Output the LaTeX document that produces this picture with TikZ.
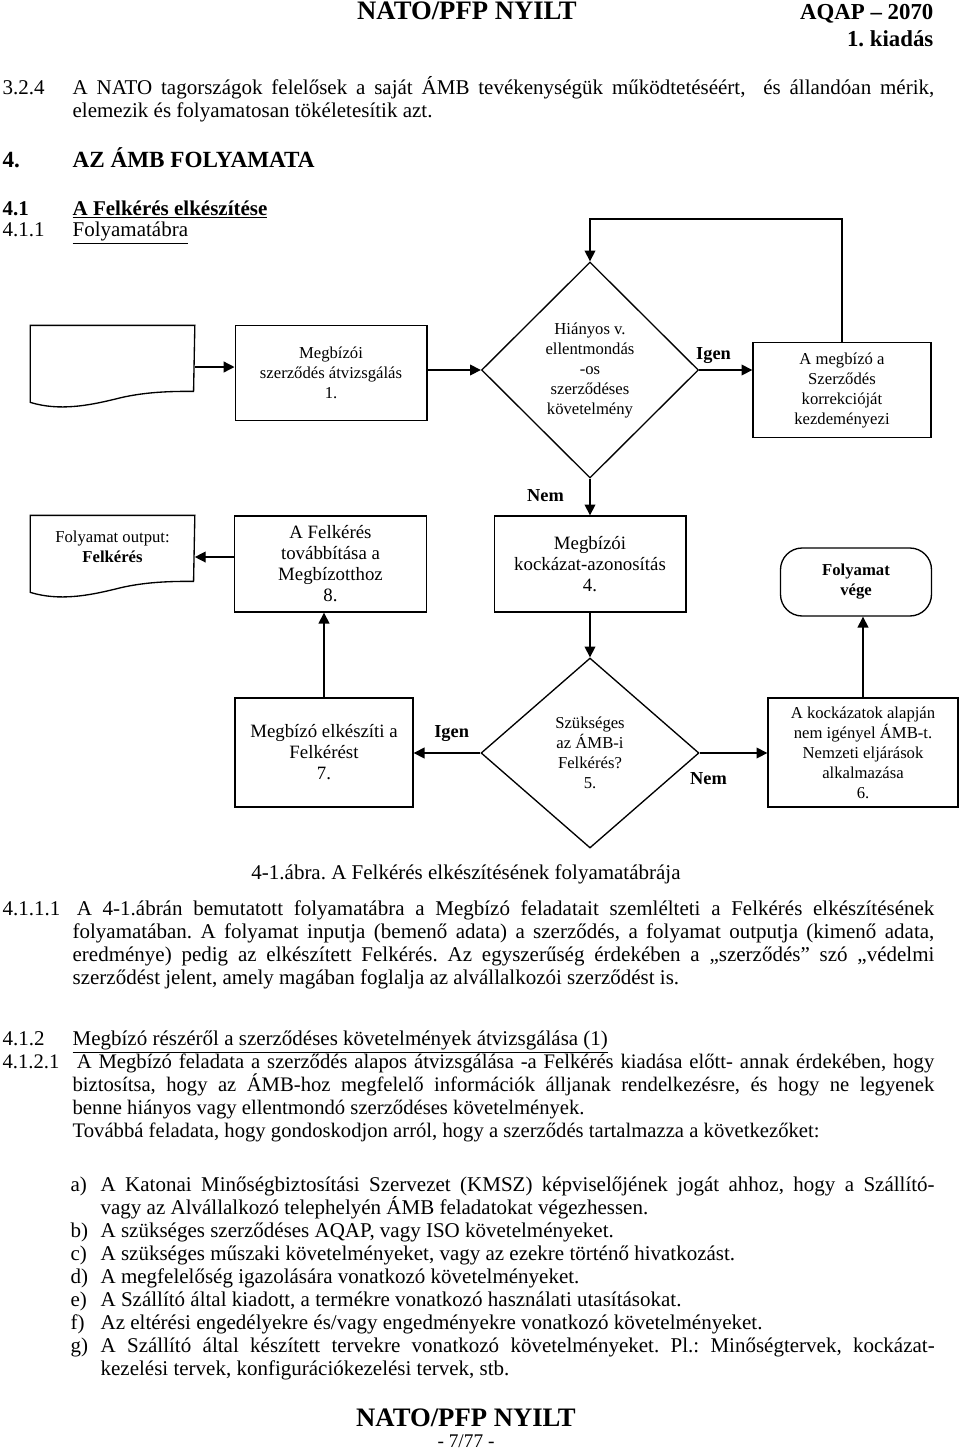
\documentclass[tikz,border=0pt]{standalone}
\usepackage{fontspec}
\setmainfont{Liberation Serif}
\usetikzlibrary{arrows.meta,shapes.geometric}
\frenchspacing
\newcommand\bodyfont{\fontsize{12.6}{13.8}\selectfont}
\newcommand\boxfont{\fontsize{10}{12}\selectfont}
\newcommand\bigboxfont{\fontsize{11.3}{12.6}\selectfont}
\newcommand\pointitem[1]{\par\hangindent=18pt\hangafter=1\makebox[18pt][l]{#1}}
\tikzset{%
  >={Triangle[width=6.5pt,length=6.5pt]},
  % Specifications for style of flowchart nodes:
         base/.style = {rectangle, draw=black, align=center,
                        inner sep=1pt, font=\boxfont},
      process/.style = {base, minimum width=115pt, minimum height=57.6pt},
     decision/.style = {base, diamond, minimum width=130.2pt,
                        minimum height=129.6pt, inner sep=0pt},
     terminal/.style = {base, rounded corners=13pt, minimum width=90.6pt,
                        minimum height=40.8pt, font=\boxfont\bfseries},
     document/.style = {base, draw=none, minimum width=98pt,
                        minimum height=49.2pt},
       answer/.style = {font=\fontsize{11}{13}\selectfont\bfseries},
  % page text
     textline/.style = {anchor=base west, inner sep=0pt, font=\bodyfont},
       banner/.style = {anchor=base, inner sep=0pt,
                        font=\fontsize{16}{18}\selectfont\bfseries},
                      }
\begin{document}
\begin{tikzpicture}[x=0.6pt, y=-0.6pt, line width=0.8pt]
  \useasboundingbox (0,0) rectangle (960,1451);
  % page header
  \node (head) [banner] at (467,19) {NATO/PFP NYILT};
  \node (aqap) [anchor=base east, inner sep=0pt,
      font=\fontsize{13.7}{16}\selectfont\bfseries] at (934,19) {AQAP – 2070};
  \node (issue) [anchor=base east, inner sep=0pt,
      font=\fontsize{13.7}{16}\selectfont\bfseries] at (934,46) {1. kiadás};

  % text before the figure
  \node (p324) [textline] at (2,94) {\parbox[t]{559pt}{\hangindent=42pt\hangafter=1
    \makebox[42pt][l]{3.2.4}A NATO tagországok felelősek a saját ÁMB tevékenységük működtetéséért,\ \ és állandóan mérik,\linebreak
    elemezik és folyamatosan tökéletesítik azt.}};
  \node (s4) [textline, font=\fontsize{13.9}{16}\selectfont\bfseries] at (2,167)
    {\makebox[42pt][l]{4.}AZ ÁMB FOLYAMATA};
  \node (s41) [textline, font=\bodyfont\bfseries] at (2,215)
    {\makebox[42pt][l]{4.1}\underline{A Felkérés elkészítése}};
  \node (s411) [textline] at (2,236) {\makebox[42pt][l]{4.1.1}\underline{Folyamatábra}};

  % Specification of flowchart nodes (position, etc.)
  \node (input)    [document] at (112.5,367) {};
  \node (review)   [process, minimum height=57pt] at (331,373)
    {Megbízói\\szerződés átvizsgálás\\1.};
  \node (check)    [decision] at (590,370)
    {Hiányos v.\\ellentmondás\\-os\\szerződéses\\követelmény};
  \node (correct)  [process, minimum width=106.8pt, minimum height=57pt] at (842,390)
    {A megbízó a\\Szerződés\\korrekcióját\\kezdeményezi};
  \node (output)   [document] at (112.5,557)
    {Folyamat output:\\\textbf{Felkérés}\\\mbox{}};
  \node (forward)  [process, font=\bigboxfont] at (330.5,564)
    {A Felkérés\\továbbítása a\\Megbízotthoz\\8.};
  \node (risk)     [process, font=\bigboxfont] at (590,564)
    {Megbízói\\kockázat-azonosítás\\4.};
  \node (finish)   [terminal] at (856,582) {Folyamat\\vége};
  \node (elabor)   [process, font=\bigboxfont, minimum width=106.8pt,
                    minimum height=65.4pt] at (324,752.5)
    {Megbízó elkészíti a\\Felkérést\\7.};
  \node (need)     [decision, minimum width=130.8pt, minimum height=114pt] at (590,753)
    {Szükséges\\az ÁMB-i\\Felkérés?\\5.};
  \node (national) [process, minimum width=114pt, minimum height=65.4pt] at (863,752.5)
    {A kockázatok alapján\\nem igényel ÁMB-t.\\Nemzeti eljárások\\alkalmazása\\6.};

  % document outlines with the wavy bottom
  \foreach \doc in {input,output}
    \draw (\doc.north east) -- (\doc.north west) -- ++(0,77)
      .. controls +(29,9) and +(-25,6) .. ++(84,-3)
      .. controls +(30,-8) and +(-20,0) .. ++(79.4,-8) -- cycle;

  % Specification of lines between nodes specified above
  % with aditional nodes for the answers
  \draw[->] (input.east) -- (input.east -| review.west);
  \draw[->] (review.east |- check.west) -- (check.west);
  \draw[->] (check.east) -- (check.east -| correct.west)
    node[answer, pos=0.27, above] {Igen};
  \draw[->] (correct.north) -- ++(0,-123) -| (check.north);
  \draw[->] (check.south) -- (risk.north)
    node[answer, pos=0.45, left=12pt] {Nem};
  \draw[->] (risk.south) -- (need.north);
  \draw[->] (need.west) -- (need.west -| elabor.east)
    node[answer, pos=0.43, above=3pt] {Igen};
  \draw[->] (need.east) -- (need.east -| national.west)
    node[answer, pos=0.13, below=8pt] {Nem};
  \draw[->] (national.north) -- (national.north |- finish.south);
  \draw[->] (elabor.north) -- (elabor.north |- forward.south);
  \draw[->] (forward.west |- output.east) -- (output.east);

  % text after the figure
  \node (caption) [anchor=base, inner sep=0pt, font=\bodyfont] at (466,879)
    {4-1.ábra. A Felkérés elkészítésének folyamatábrája};
  \node (p4111) [textline] at (2,915) {\parbox[t]{559pt}{\hangindent=42pt\hangafter=1
    \makebox[44.5pt][l]{4.1.1.1}A 4-1.ábrán bemutatott folyamatábra a Megbízó feladatait szemlélteti a Felkérés elkészítésének\linebreak
    folyamatában. A folyamat inputja (bemenő adata) a szerződés, a folyamat outputja (kimenő adata,\linebreak
    eredménye) pedig az elkészített Felkérés. Az egyszerűség érdekében a „szerződés” szó „védelmi\linebreak
    szerződést jelent, amely magában foglalja az alvállalkozói szerződést is.}};
  \node (s412) [textline] at (2,1045)
    {\makebox[42pt][l]{4.1.2}\underline{Megbízó részéről a szerződéses követelmények átvizsgálása (1)}};
  \node (p4121) [textline, font=\fontsize{12.4}{13.8}\selectfont] at (2,1068)
    {\parbox[t]{559pt}{\hangindent=42pt\hangafter=1
    \makebox[44.5pt][l]{4.1.2.1}A Megbízó feladata a szerződés alapos átvizsgálása -a Felkérés kiadása előtt- annak érdekében, hogy\linebreak
    biztosítsa, hogy az ÁMB-hoz megfelelő információk álljanak rendelkezésre, és hogy ne legyenek\linebreak
    benne hiányos vagy ellentmondó szerződéses követelmények.\newline
    Továbbá feladata, hogy gondoskodjon arról, hogy a szerződés tartalmazza a következőket:}};
  \node (items) [textline] at (70,1191) {\parbox[t]{518.4pt}{%
    \pointitem{a)}A Katonai Minőségbiztosítási Szervezet (KMSZ) képviselőjének jogát ahhoz, hogy a Szállító-\linebreak
      vagy az Alvállalkozó telephelyén ÁMB feladatokat végezhessen.
    \pointitem{b)}A szükséges szerződéses AQAP, vagy ISO követelményeket.
    \pointitem{c)}A szükséges műszaki követelményeket, vagy az ezekre történő hivatkozást.
    \pointitem{d)}A megfelelőség igazolására vonatkozó követelményeket.
    \pointitem{e)}A Szállító által kiadott, a termékre vonatkozó használati utasításokat.
    \pointitem{f)}Az eltérési engedélyekre és/vagy engedményekre vonatkozó követelményeket.
    \pointitem{g)}A Szállító által készített tervekre vonatkozó követelményeket. Pl.: Minőségtervek, kockázat-\linebreak
      kezelési tervek, konfigurációkezelési tervek, stb.}};

  % page footer
  \node (foot) [banner] at (466,1426) {NATO/PFP NYILT};
  \node (pageno) [anchor=base, inner sep=0pt, font=\fontsize{11.6}{13}\selectfont]
    at (466,1447) {- 7/77 -};
\end{tikzpicture}
\end{document}
